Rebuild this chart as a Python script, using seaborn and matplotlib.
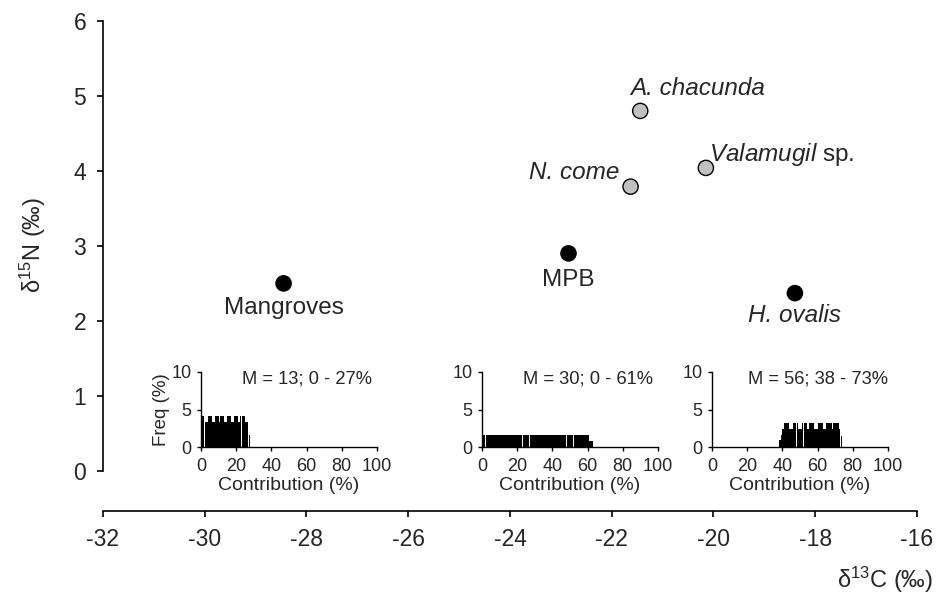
import numpy as np
import pandas as pd
import matplotlib
matplotlib.use("Agg")
import matplotlib.pyplot as plt
import seaborn as sns

# stable isotope means (sources and consumers)
names = ["Mangroves", "MPB", "H. ovalis", "N. come", "A. chacunda", "Valamugil sp."]
d13c = [-28.45, -22.85, -18.40, -21.63, -21.44, -20.15]
d15n = [2.50, 2.90, 2.37, 3.79, 4.80, 4.04]
group = ["source", "source", "source", "consumer", "consumer", "consumer"]

# mixing model: frequency (%) of each 1 % contribution bin (bin start values)
mang_bins = list(range(0, 28))
mang_freq = [4.1, 4.1, 3.3, 3.3, 4.1, 4.1, 3.3, 3.3, 4.1, 4.1,
             3.3, 4.1, 4.1, 3.3, 3.3, 4.1, 4.1, 3.3, 3.3, 4.1,
             4.1, 3.3, 4.1, 4.1, 4.1, 3.3, 3.3, 1.6]
mpb_bins = list(range(0, 63))
mpb_freq = [1.6, 1.6, 1.6, 1.6, 1.6, 1.6, 1.6, 1.6, 1.6, 1.6,
            1.6, 1.6, 1.6, 1.6, 1.6, 1.6, 1.6, 1.6, 1.6, 1.6,
            1.6, 1.6, 1.6, 1.6, 1.6, 1.6, 1.6, 1.6, 1.6, 1.6,
            1.6, 1.6, 1.6, 1.6, 1.6, 1.6, 1.6, 1.6, 1.6, 1.6,
            1.6, 1.6, 1.6, 1.6, 1.6, 1.6, 1.6, 1.6, 1.6, 1.6,
            1.6, 1.6, 1.6, 1.6, 1.6, 1.6, 1.6, 1.6, 1.6, 1.6,
            1.6, 0.8, 0.8]
halo_bins = list(range(38, 74))
halo_freq = [1.0, 1.6, 2.45, 3.25, 3.25, 3.25, 2.45, 2.45, 3.25, 3.25,
             3.25, 2.45, 2.45, 3.25, 3.25, 3.25, 2.45, 3.25, 3.25, 3.25,
             2.45, 2.45, 3.25, 3.25, 3.25, 2.45, 2.45, 3.25, 3.25, 3.25,
             2.45, 3.25, 3.25, 3.25, 2.45, 1.5]
inset_notes = ["M = 13; 0 - 27%", "M = 30; 0 - 61%", "M = 56; 38 - 73%"]

sns.set_style("ticks")
plt.rcParams["font.family"] = ["Liberation Sans", "DejaVu Sans"]
plt.rcParams["mathtext.fontset"] = "custom"
plt.rcParams["mathtext.rm"] = "Liberation Sans"
plt.rcParams["mathtext.it"] = "Liberation Sans:italic"

df = pd.DataFrame({"name": names, "d13C": d13c, "d15N": d15n, "group": group})

fig = plt.figure(figsize=(9.36, 6.06), dpi=100)
ax = fig.add_axes([0.110, 0.157, 0.8697, 0.8085])

sns.scatterplot(data=df, x="d13C", y="d15N", hue="group",
                palette={"source": "black", "consumer": "#c0c0c0"},
                edgecolor="black", linewidth=1, s=120, legend=False, ax=ax, zorder=3)

ax.set_xlim(-32, -16)
ax.set_ylim(-0.533, 6)
ax.set_xticks(range(-32, -15, 2))
ax.set_yticks(range(0, 7))
ax.spines["top"].set_visible(False)
ax.spines["right"].set_visible(False)
ax.spines["left"].set_bounds(0, 6)
ax.spines["bottom"].set_bounds(-32, -16)
for s in ["left", "bottom"]:
    ax.spines[s].set_linewidth(1.2)
    ax.spines[s].set_color("black")
ax.tick_params(labelsize=16.5, length=4, width=1.2, color="black", pad=8)
ax.set_xticklabels([f"-{abs(v)}" for v in range(-32, -15, 2)])
ax.set_xlabel("")
ax.set_ylabel("")

# point labels: (dx, dy) offsets in points, alignment, style
lab_fmt = {
    "Mangroves": ((0, -18), "center", "normal"),
    "MPB": ((0, -19.5), "center", "normal"),
    "H. ovalis": ((0, -16), "center", "italic"),
    "N. come": ((-8, 10), "right", "italic"),
    "A. chacunda": ((-7, 16), "left", "italic"),
}
for n, x, y in zip(names, d13c, d15n):
    if n == "Valamugil sp.":
        ax.annotate("$\\it{Valamugil}$ sp.", (x, y), xytext=(2, 10),
                    textcoords="offset points", ha="left", va="center", fontsize=17.5)
        continue
    off, ha, st = lab_fmt[n]
    ax.annotate(n, (x, y), xytext=off, textcoords="offset points",
                ha=ha, va="center", fontsize=17.5, style=st)

fig.text(33 / 936, 1 - 245 / 606, "δ$^{15}$N (‰)", rotation=90,
         ha="center", va="center", fontsize=17)
fig.text(0.997, 1 - 580 / 606, "δ$^{13}$C (‰)", ha="right", va="center", fontsize=17)

# inset histograms
inset_lefts = [201 / 936, 482 / 936, 712 / 936]
hist_data = [(mang_bins, mang_freq), (mpb_bins, mpb_freq), (halo_bins, halo_freq)]
for i, (left, (bins, freq), note) in enumerate(zip(inset_lefts, hist_data, inset_notes)):
    ins = fig.add_axes([left, 1 - 447 / 606, 176 / 936, 75 / 606])
    ins.patch.set_alpha(0)
    hdf = pd.DataFrame({"contrib": [b + 0.5 for b in bins], "freq": freq})
    sns.histplot(data=hdf, x="contrib", weights="freq", binwidth=1, binrange=(0, 100),
                 color="black", linewidth=0, shrink=0.96, alpha=1, ax=ins)
    ins.set_xlim(0, 100)
    ins.set_ylim(0, 10)
    ins.set_xticks(range(0, 101, 20))
    ins.set_yticks([0, 5, 10])
    ins.spines["top"].set_visible(False)
    ins.spines["right"].set_visible(False)
    for s in ["left", "bottom"]:
        ins.spines[s].set_linewidth(1)
        ins.spines[s].set_color("black")
    ins.tick_params(labelsize=13, length=3, width=1, color="black")
    ins.tick_params(axis="x", pad=5)
    ins.tick_params(axis="y", pad=4)
    ins.set_xlabel("Contribution (%)", fontsize=14, labelpad=1)
    if i == 0:
        ins.set_ylabel("Freq (%)", fontsize=13.5, labelpad=1)
    else:
        ins.set_ylabel("")
    ins.text(0.6, 0.9, note, transform=ins.transAxes, ha="center", va="center", fontsize=13.2)

fig.savefig("out.png", dpi=100)
